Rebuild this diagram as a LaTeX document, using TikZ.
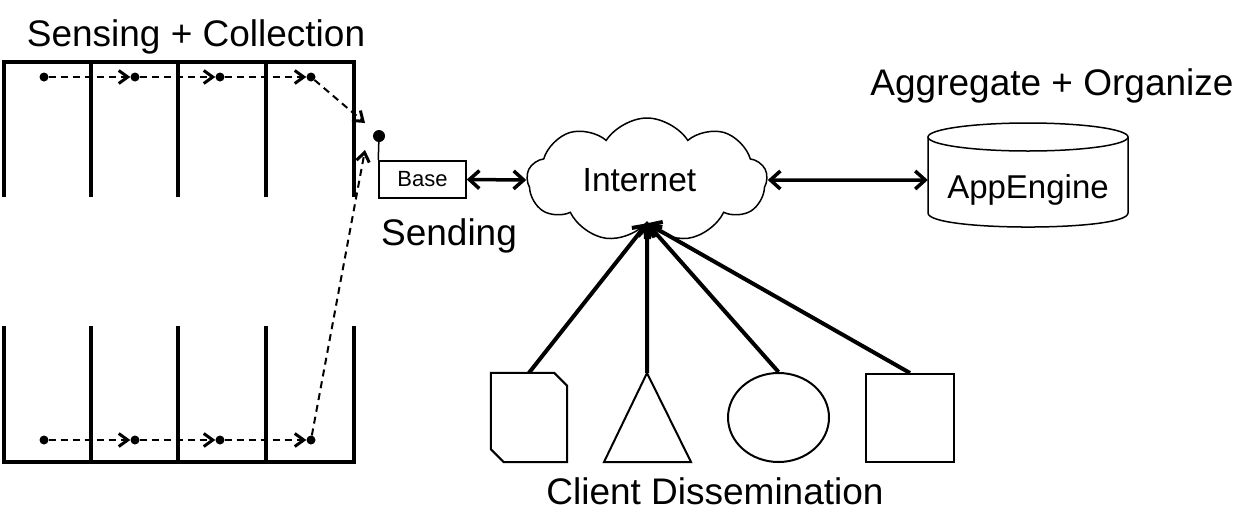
\documentclass[tikz,border=0pt]{standalone}
\usepackage{fontspec}
\setmainfont{Liberation Sans}
\usetikzlibrary{arrows.meta,shapes.symbols,shapes.geometric}
\begin{document}
\begin{tikzpicture}[x=1pt,y=-1pt,
  lot/.style={line width=4pt, line join=miter},
  dot/.style={circle, fill=black, inner sep=0pt, minimum size=9pt},
  flow/.style={line width=2pt, dash pattern=on 7pt off 5pt, -{Straight Barb[length=9pt,width=13pt,line width=3pt]}},
  link/.style={line width=3.5pt, {Straight Barb[length=10pt,width=18pt,line width=3.5pt]}-{Straight Barb[length=10pt,width=18pt,line width=3.5pt]}},
  uplink/.style={line width=4pt, -{Straight Barb[length=10pt,width=18pt,line width=4pt]}},
  outline/.style={draw, line width=2pt},
  big/.style={font=\fontsize{37}{40}\selectfont, inner sep=0pt},
]
\useasboundingbox (0,0) rectangle (1258,523);

% titles
\node[big, anchor=base] (title1) at (196,46) {Sensing + Collection};
\node[big, anchor=base] (agg) at (1052,95) {Aggregate + Organize};
\node[big, anchor=base] (send) at (449,245) {Sending};
\node[big, anchor=base] (cd) at (715,504) {Client Dissemination};

% parking rows
\draw[lot] (4,197) -- (4,62) -- (354,62) -- (354,197);
\foreach \x in {91,178,266} \draw[lot] (\x,62) -- (\x,197);
\draw[lot] (4,326) -- (4,462) -- (354,462) -- (354,326);
\foreach \x in {91,178,266} \draw[lot] (\x,326) -- (\x,462);

% sensor dots
\node[dot] (t1) at (44,77) {};
\node[dot] (t2) at (135,77) {};
\node[dot] (t3) at (220,77) {};
\node[dot] (t4) at (311,77) {};
\node[dot] (b1) at (44,440) {};
\node[dot] (b2) at (135,440) {};
\node[dot] (b3) at (220,440) {};
\node[dot] (b4) at (311,440) {};
\coordinate (tin) at (365,123);
\coordinate (bin) at (365,150);
\draw[flow] (t1) -- (t2);
\draw[flow] (t2) -- (t3);
\draw[flow] (t3) -- (t4);
\draw[flow] (t4) -- (tin);
\draw[flow] (b1) -- (b2);
\draw[flow] (b2) -- (b3);
\draw[flow] (b3) -- (b4);
\draw[flow] (b4) -- (bin);

% base station
\node[draw, line width=1.5pt, minimum width=87pt, minimum height=37pt, inner sep=0pt,
      font=\fontsize{22}{24}\selectfont] (base) at (422.5,179.5) {Base};
\node[dot, minimum size=12pt] (ant) at (379,136) {};
\draw[line width=1.5pt] (ant.center) -- (base.north west);

% internet cloud
\node[cloud, draw, line width=1.5pt, cloud puffs=9, cloud puff arc=115, aspect=2,
      minimum width=240pt, minimum height=124pt, inner sep=0pt] (net) at (647,180) {};
\node[anchor=base, inner sep=0pt, font=\fontsize{33.5}{36}\selectfont] (netlabel) at (639.5,191) {Internet};

% app engine cylinder
\node[minimum width=200pt, minimum height=90pt, inner sep=0pt] (app) at (1028,180) {};
\draw[line width=1.5pt] (1028,137) ellipse [x radius=100, y radius=14];
\draw[line width=1.5pt] (928,137) -- (928,213) .. controls (928,231.7) and (1128,231.7) .. (1128,213) -- (1128,137);
\node[anchor=base, inner sep=0pt, font=\fontsize{33}{36}\selectfont] (applabel) at (1028,198) {AppEngine};

\draw[link] (base.east) -- (net.west);
\draw[link] (net.east) -- (app.west);

% clients
\node[minimum width=76pt, minimum height=89pt, inner sep=0pt] (c1) at (529,417.5) {};
\draw[outline] (c1.north west) -- ([xshift=-13pt]c1.north east) -- ([yshift=-13pt]c1.north east)
  -- (c1.south east) -- ([xshift=13pt]c1.south west) -- ([yshift=13pt]c1.south west) -- cycle;
\draw[outline] (647,373) -- (691,462) -- (604,462) -- cycle;
\coordinate (c2) at (647,373);
\node[ellipse, outline, minimum width=101pt, minimum height=89pt, inner sep=0pt] (c3) at (778.5,417.5) {};
\node[outline, minimum width=88pt, minimum height=88pt, inner sep=0pt] (c4) at (910,418) {};

\draw[uplink] (c1.north) -- (net.south);
\draw[uplink] (c2) -- (net.south);
\draw[uplink] (c3.north) -- (net.south);
\draw[uplink] (c4.north) -- (net.south);
\end{tikzpicture}
\end{document}
